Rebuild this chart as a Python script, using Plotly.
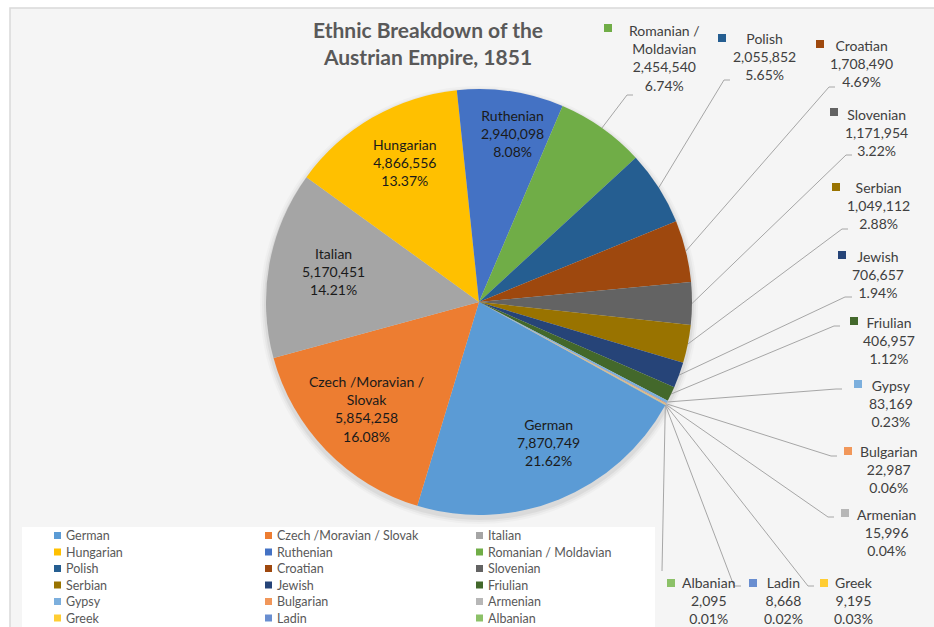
import math
import plotly.graph_objects as go

# ---------------------------------------------------------------- data
groups = [
    "German", "Czech /Moravian / Slovak", "Italian", "Hungarian", "Ruthenian",
    "Romanian / Moldavian", "Polish", "Croatian", "Slovenian", "Serbian",
    "Jewish", "Friulian", "Gypsy", "Bulgarian", "Armenian", "Greek", "Ladin",
    "Albanian",
]
population = [
    7870749, 5854258, 5170451, 4866556, 2940098,
    2454540, 2055852, 1708490, 1171954, 1049112,
    706657, 406957, 83169, 22987, 15996, 9195, 8668,
    2095,
]
# names as written on the data labels (wrapped where needed)
label_names = [
    "German", "Czech /Moravian /<br>Slovak", "Italian", "Hungarian", "Ruthenian",
    "Romanian /<br>Moldavian", "Polish", "Croatian", "Slovenian", "Serbian",
    "Jewish", "Friulian", "Gypsy", "Bulgarian", "Armenian", "Greek", "Ladin",
    "Albanian",
]
colors = [
    "#5B9BD5", "#ED7D31", "#A5A5A5", "#FFC000", "#4472C4",
    "#70AD47", "#255E91", "#9E480E", "#636363", "#997300",
    "#264478", "#43682B", "#7CAFDD", "#F1975A", "#B7B7B7",
    "#FFCD33", "#698ED0", "#8CC168",
]
title_text = "Ethnic Breakdown of the<br>Austrian Empire, 1851"

# ---------------------------------------------------------------- layout
W, H = 934, 627
CX, CY, R = 479, 302, 213          # pie centre and radius in pixels
ROTATION = 119                     # start angle of the first slice (clockwise from 12 o'clock)
FONT = "Lato"


def fx(x):
    return x / W


def fy(y):
    return 1 - y / H


total = sum(population)

# labels drawn inside the large slices: block centre (px)
inside_pos = {
    "German": (548, 442),
    "Czech /Moravian / Slovak": (366, 409),
    "Italian": (333, 271),
    "Hungarian": (405, 162),
    "Ruthenian": (512, 134),
}

# callout labels: text centre x / block top y, legend key centre, leader elbow and end
callouts = {
    "Romanian / Moldavian": dict(text=(664, 20), key=(608, 28), elbow=(627, 95), end=(633, 95)),
    "Polish": dict(text=(764, 28), key=(722, 38), elbow=(724, 80), end=(730, 80)),
    "Croatian": dict(text=(861, 35), key=(820, 44), elbow=(829, 87), end=(835, 87)),
    "Slovenian": dict(text=(876, 104), key=(834, 112), elbow=(846, 155), end=(852, 155)),
    "Serbian": dict(text=(878, 177), key=(836, 187), elbow=(842, 229), end=(848, 229)),
    "Jewish": dict(text=(878, 246), key=(842, 255), elbow=(845, 297), end=(852, 297)),
    "Friulian": dict(text=(889, 312), key=(854, 321), elbow=(834, 326), end=(840, 326)),
    "Gypsy": dict(text=(891, 375), key=(858, 384), elbow=(836, 389), end=(842, 389)),
    "Bulgarian": dict(text=(888, 441), key=(848, 451), elbow=(831, 456), end=(837, 456)),
    "Armenian": dict(text=(886, 504), key=(845, 513), elbow=(828, 517), end=(834, 517)),
    "Greek": dict(text=(853, 572), key=(824, 583), elbow=(808, 586), end=(814, 586)),
    "Ladin": dict(text=(783, 572), key=(753, 583), elbow=(734, 586), end=(741, 586)),
    "Albanian": dict(text=(709, 572), key=(671, 583), elbow=(662, 571), end=(662, 571)),
}

# ---------------------------------------------------------------- figure
fig = go.Figure()
fig.add_trace(go.Pie(
    labels=groups,
    values=population,
    marker=dict(colors=colors, line=dict(width=0)),
    sort=False,
    direction="clockwise",
    rotation=ROTATION,
    textinfo="none",
    hovertemplate="%{label}<br>%{value:,}<br>%{percent}<extra></extra>",
    showlegend=False,
    domain=dict(x=[fx(CX - R), fx(CX + R)], y=[fy(CY + R), fy(CY - R)]),
))

shapes = []
annotations = []

# chart area and legend panel
shapes.append(dict(type="rect", xref="paper", yref="paper", layer="below",
                   x0=fx(10), x1=fx(W + 5), y0=fy(H + 5), y1=fy(8),
                   fillcolor="#f5f5f5", line=dict(color="#d9d9d9", width=1.5)))
shapes.append(dict(type="rect", xref="paper", yref="paper", layer="below",
                   x0=fx(22), x1=fx(655), y0=fy(H + 5), y1=fy(527),
                   fillcolor="#ffffff", line=dict(width=0)))

# soft shadow under the pie
for grow, alpha in [(6, 0.025), (4, 0.035), (2, 0.05)]:
    shapes.append(dict(type="circle", xref="paper", yref="paper", layer="below",
                       x0=fx(CX - R - grow), x1=fx(CX + R + grow),
                       y0=fy(CY + 3 + R + grow), y1=fy(CY + 3 - R - grow),
                       fillcolor=f"rgba(0,0,0,{alpha})", line=dict(width=0)))

# title
annotations.append(dict(
    x=fx(428), y=fy(15), xref="paper", yref="paper", xanchor="center", yanchor="top",
    text=f"<b>{title_text}</b>", showarrow=False, align="center",
    font=dict(family=FONT, size=21, color="#595959"),
))

# slice geometry
cum = 0
for name, disp, val, col in zip(groups, label_names, population, colors):
    mid = math.radians(ROTATION + 360 * (cum + val / 2) / total)
    cum += val
    rim = (CX + R * math.sin(mid), CY - R * math.cos(mid))
    pct = f"{val / total * 100:.2f}%"
    body = f"{disp}<br>{val:,}<br>{pct}"

    if name in inside_pos:
        x, y = inside_pos[name]
        annotations.append(dict(
            x=fx(x), y=fy(y), xref="paper", yref="paper", xanchor="center",
            yanchor="middle", text=body, showarrow=False, align="center",
            font=dict(family=FONT, size=14, color="#1a1a1a"),
        ))
        continue

    c = callouts[name]
    tx, ty = c["text"]
    annotations.append(dict(
        x=fx(tx), y=fy(ty), xref="paper", yref="paper", xanchor="center",
        yanchor="top", text=body, showarrow=False, align="center",
        font=dict(family=FONT, size=14, color="#404040"),
    ))
    kx, ky = c["key"]
    shapes.append(dict(type="rect", xref="paper", yref="paper",
                       x0=fx(kx - 4), x1=fx(kx + 4), y0=fy(ky + 4), y1=fy(ky - 4),
                       fillcolor=col, line=dict(width=0)))
    ex, ey = c["elbow"]
    nx, ny = c["end"]
    for (x0, y0), (x1, y1) in [(rim, (ex, ey)), ((ex, ey), (nx, ny))]:
        if (x0, y0) == (x1, y1):
            continue
        shapes.append(dict(type="line", xref="paper", yref="paper", layer="below",
                           x0=fx(x0), y0=fy(y0), x1=fx(x1), y1=fy(y1),
                           line=dict(color="#a6a6a6", width=1)))

# legend: three columns, filled row by row
col_x = [54, 265, 476]
row_y0, row_step = 535.5, 16.5
for i, (name, col) in enumerate(zip(groups, colors)):
    r, cidx = divmod(i, 3)
    sx = col_x[cidx]
    sy = row_y0 + r * row_step
    shapes.append(dict(type="rect", xref="paper", yref="paper",
                       x0=fx(sx), x1=fx(sx + 7), y0=fy(sy + 3.5), y1=fy(sy - 3.5),
                       fillcolor=col, line=dict(width=0)))
    annotations.append(dict(
        x=fx(sx + 10), y=fy(sy), xref="paper", yref="paper", xanchor="left",
        yanchor="middle", text=name, showarrow=False,
        font=dict(family=FONT, size=12.5, color="#595959"),
    ))

fig.update_layout(
    width=W, height=H,
    margin=dict(l=0, r=0, t=0, b=0),
    paper_bgcolor="#ffffff",
    plot_bgcolor="#ffffff",
    shapes=shapes,
    annotations=annotations,
)

fig.write_html("out.html")
